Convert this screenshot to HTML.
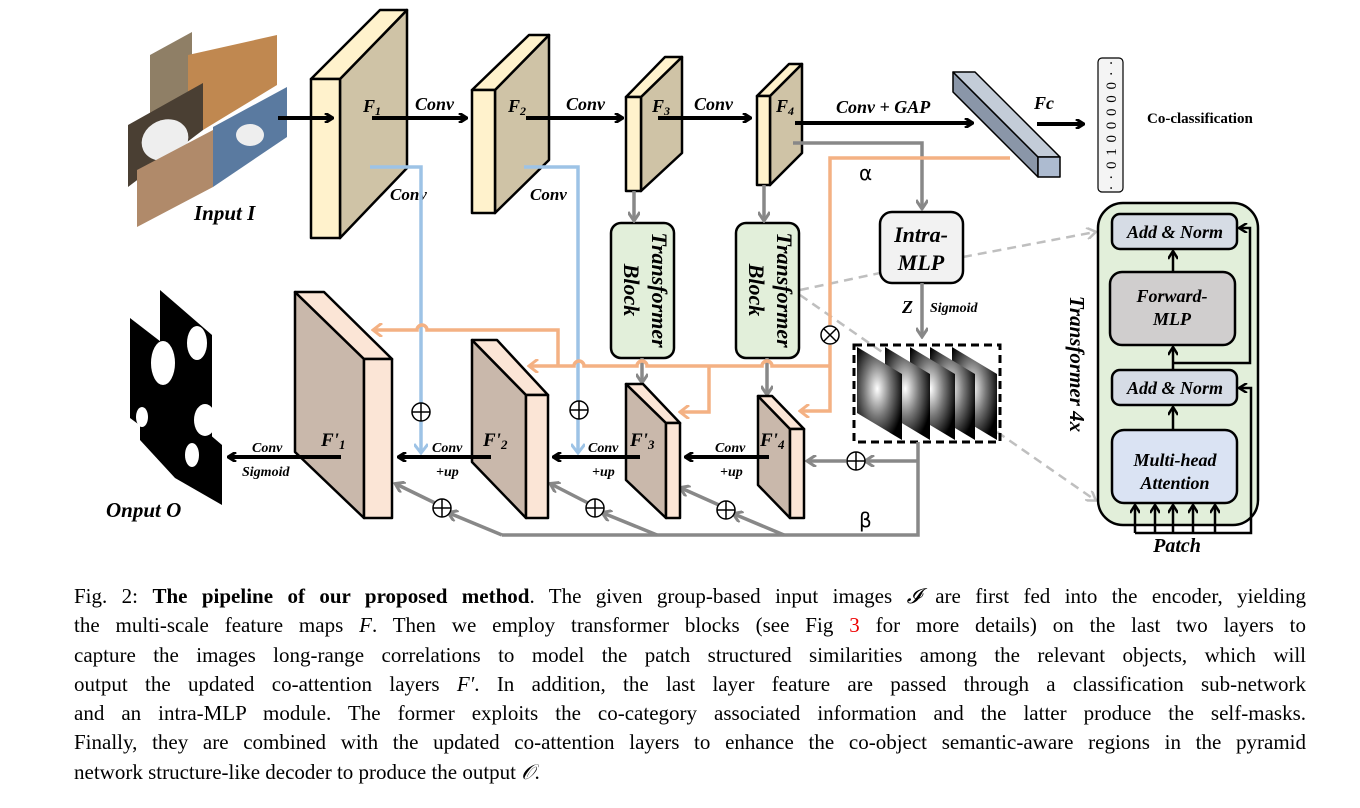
<!DOCTYPE html>
<html><head><meta charset="utf-8"><style>
html,body{margin:0;padding:0;background:#fff;}
body{width:1360px;height:808px;position:relative;overflow:hidden;}
svg{position:absolute;left:0;top:0;}
.cap{position:absolute;left:74px;top:582px;width:1232px;font-family:"Liberation Serif",serif;font-size:21px;line-height:29.3px;color:#000;}
.cap div{text-align:justify;text-align-last:justify;white-space:nowrap;}
.cap div.last{text-align-last:left;}
.lab{font-family:"Liberation Serif",serif;font-weight:bold;font-style:italic;}
</style></head><body>
<svg width="1360" height="808" viewBox="0 0 1360 808">
<defs>
<marker id="ab" markerWidth="10" markerHeight="10" refX="8" refY="5" orient="auto" markerUnits="userSpaceOnUse"><path d="M1,0 L9,5 L1,10" fill="none" stroke="#000" stroke-width="3"/></marker>
<marker id="ag" markerWidth="12" markerHeight="12" refX="9" refY="6" orient="auto" markerUnits="userSpaceOnUse"><path d="M1,0 L10,6 L1,12" fill="none" stroke="#888" stroke-width="3"/></marker>
<marker id="ao" markerWidth="12" markerHeight="14" refX="9" refY="7" orient="auto" markerUnits="userSpaceOnUse"><path d="M1,0 L10,7 L1,14" fill="none" stroke="#f4b183" stroke-width="3"/></marker>
<marker id="abl" markerWidth="12" markerHeight="14" refX="9" refY="7" orient="auto" markerUnits="userSpaceOnUse"><path d="M1,0 L10,7 L1,14" fill="none" stroke="#9dc3e6" stroke-width="3"/></marker>
<marker id="ad" markerWidth="12" markerHeight="12" refX="9" refY="6" orient="auto" markerUnits="userSpaceOnUse"><path d="M1,0 L10,6 L1,12" fill="none" stroke="#bfbfbf" stroke-width="2.5"/></marker>
<marker id="ak" markerWidth="10" markerHeight="10" refX="8" refY="5" orient="auto" markerUnits="userSpaceOnUse"><path d="M1,0 L9,5 L1,10" fill="none" stroke="#000" stroke-width="2.5"/></marker>
<radialGradient id="rg" cx="0.45" cy="0.45" r="0.6"><stop offset="0" stop-color="#fff"/><stop offset="0.5" stop-color="#777"/><stop offset="1" stop-color="#000"/></radialGradient>
</defs>

<polygon points="150,55 192,32 192,100 150,123" fill="#8f7f66"/>
<polygon points="188,55 277,35 277,85 203,130 188,128" fill="#c08850"/>
<polygon points="128,125 203,83 203,130 128,187" fill="#4a3f33"/>
<ellipse cx="165" cy="140" rx="24" ry="20" fill="#eee" transform="rotate(-25 165 140)"/>
<polygon points="213,127 287,87 287,137 213,187" fill="#5a7aa0"/>
<ellipse cx="250" cy="135" rx="14" ry="11" fill="#eee"/>
<polygon points="137,170 213,130 213,187 137,227" fill="#b08a6a"/>
<text x="194" y="220" class="lab" font-size="21">Input  I</text>

<polygon points="160,290 212,335 212,440 160,395" fill="#000"/>
<polygon points="130,318 200,372 200,470 130,418" fill="#000"/>
<polygon points="140,375 222,445 222,505 175,478 140,440" fill="#000"/>
<ellipse cx="163" cy="363" rx="12" ry="22" fill="#fff"/>
<ellipse cx="197" cy="343" rx="10" ry="17" fill="#fff"/>
<ellipse cx="142" cy="417" rx="6" ry="10" fill="#fff"/>
<ellipse cx="205" cy="420" rx="11" ry="16" fill="#fff"/>
<ellipse cx="192" cy="455" rx="7" ry="12" fill="#fff"/>
<text x="106" y="517" class="lab" font-size="21">Onput  O</text>

<g stroke="#000" stroke-width="2.5" stroke-linejoin="round">
<polygon points="340,79 407,10 407,168 340,238" fill="#cfc3a6"/>
<polygon points="311,79 380,10 407,10 340,79" fill="#fff2cc"/>
<rect x="311" y="79" width="29" height="159" fill="#fff2cc"/>
<polygon points="495,90 549,35 549,160 495,213" fill="#cfc3a6"/>
<polygon points="472,90 529,35 549,35 495,90" fill="#fff2cc"/>
<rect x="472" y="90" width="23" height="123" fill="#fff2cc"/>
<polygon points="641,97 682,57 682,153 641,191" fill="#cfc3a6"/>
<polygon points="626,97 665,57 682,57 641,97" fill="#fff2cc"/>
<rect x="626" y="97" width="15" height="94" fill="#fff2cc"/>
<polygon points="770,96 802,64 802,153 770,185" fill="#cfc3a6"/>
<polygon points="757,96 789,64 802,64 770,96" fill="#fff2cc"/>
<rect x="757" y="96" width="13" height="89" fill="#fff2cc"/>
</g>
<g class="lab" font-size="18">
<text x="363" y="112">F<tspan font-size="12" dy="3">1</tspan></text>
<text x="508" y="112">F<tspan font-size="12" dy="3">2</tspan></text>
<text x="652" y="112">F<tspan font-size="12" dy="3">3</tspan></text>
<text x="776" y="112">F<tspan font-size="12" dy="3">4</tspan></text>
<text x="415" y="110">Conv</text>
<text x="566" y="110">Conv</text>
<text x="694" y="110">Conv</text>
<text x="836" y="113">Conv + GAP</text>
<text x="1034" y="109">Fc</text>
<text x="390" y="200" font-size="17">Conv</text>
<text x="530" y="200" font-size="17">Conv</text>
</g>
<g stroke="#000" stroke-width="4" fill="none">
<line x1="278" y1="118" x2="332" y2="118" marker-end="url(#ab)"/>
<line x1="372" y1="118" x2="466" y2="118" marker-end="url(#ab)"/>
<line x1="526" y1="118" x2="622" y2="118" marker-end="url(#ab)"/>
<line x1="658" y1="118" x2="750" y2="118" marker-end="url(#ab)"/>
<line x1="795" y1="123" x2="972" y2="123" marker-end="url(#ab)"/>
<line x1="1037" y1="124" x2="1083" y2="124" marker-end="url(#ab)"/>
</g>

<g stroke="#000" stroke-width="1.5" stroke-linejoin="round">
<polygon points="953,72 1038,157 1038,177 953,92" fill="#8a96a8"/>
<polygon points="953,72 975,72 1060,157 1038,157" fill="#c3ccd8"/>
<rect x="1038" y="157" width="22" height="20" fill="#adbbd0"/>
</g>
<rect x="1098" y="58" width="25" height="134" rx="4" fill="#f4f4f4" stroke="#000" stroke-width="1.2"/>
<text transform="translate(1116,125) rotate(-90)" text-anchor="middle" font-family="Liberation Serif,serif" font-size="15" letter-spacing="1">· · 0 1 0 0 0 0 0 · ·</text>
<text x="1147" y="123" font-family="Liberation Serif,serif" font-weight="bold" font-size="15">Co-classification</text>

<g stroke="#bfbfbf" stroke-width="2.5" stroke-dasharray="9,6" fill="none">
<line x1="800" y1="290" x2="880" y2="273"/>
<line x1="963" y1="257" x2="1095" y2="232" marker-end="url(#ad)"/>
<line x1="800" y1="295" x2="1095" y2="500" marker-end="url(#ad)"/>
</g>

<g stroke="#000" stroke-width="2.5">
<rect x="611" y="223" width="63" height="135" rx="10" fill="#e2efda"/>
<rect x="736" y="223" width="63" height="135" rx="10" fill="#e2efda"/>
</g>
<g class="lab" font-size="22">
<text transform="translate(652,290) rotate(90)" text-anchor="middle">Transformer</text>
<text transform="translate(624,290) rotate(90)" text-anchor="middle">Block</text>
<text transform="translate(777,290) rotate(90)" text-anchor="middle">Transformer</text>
<text transform="translate(749,290) rotate(90)" text-anchor="middle">Block</text>
</g>

<rect x="880" y="212" width="83" height="71" rx="12" fill="#f2f2f2" stroke="#000" stroke-width="2.5"/>
<g class="lab" font-size="22" text-anchor="middle">
<text x="921" y="242">Intra-</text>
<text x="921" y="270">MLP</text>
</g>
<text x="902" y="313" class="lab" font-size="18">Z</text>
<text x="930" y="312" class="lab" font-size="14">Sigmoid</text>
<text x="859" y="180" font-family="DejaVu Sans,sans-serif" font-size="20">α</text>
<text x="859" y="527" font-family="DejaVu Sans,sans-serif" font-size="20">β</text>

<g>
<polygon points="952,347 997,374 997,440 952,413" fill="url(#rg)"/>
<polygon points="930,347 975,374 975,440 930,413" fill="url(#rg)"/>
<polygon points="910,347 955,374 955,440 910,413" fill="url(#rg)"/>
<polygon points="885,347 930,374 930,440 885,413" fill="url(#rg)"/>
<polygon points="857,347 902,374 902,440 857,413" fill="url(#rg)"/>
</g>
<rect x="854" y="345" width="146" height="97" fill="none" stroke="#000" stroke-width="3" stroke-dasharray="8,5"/>

<g stroke="#888" stroke-width="3.5" fill="none">
<polyline points="793,143 922,143 922,208" marker-end="url(#ag)"/>
<line x1="922" y1="283" x2="922" y2="336" marker-end="url(#ag)"/>
<line x1="634" y1="191" x2="634" y2="220" marker-end="url(#ag)"/>
<line x1="764" y1="185" x2="764" y2="220" marker-end="url(#ag)"/>
<line x1="642" y1="358" x2="642" y2="382" marker-end="url(#ag)"/>
<line x1="767" y1="358" x2="767" y2="394" marker-end="url(#ag)"/>
<polyline points="918,442 918,535 502,535"/>
<polyline points="918,461 866,461" marker-end="url(#ag)"/>
<line x1="846" y1="461" x2="808" y2="461" marker-end="url(#ag)"/>
<line x1="502" y1="535" x2="449" y2="513" marker-end="url(#ag)"/>
<line x1="435" y1="503" x2="396" y2="484" marker-end="url(#ag)"/>
<line x1="657" y1="535" x2="603" y2="513" marker-end="url(#ag)"/>
<line x1="588" y1="503" x2="551" y2="484" marker-end="url(#ag)"/>
<line x1="784" y1="535" x2="734" y2="514" marker-end="url(#ag)"/>
<line x1="719" y1="505" x2="681" y2="488" marker-end="url(#ag)"/>
</g>

<g stroke="#000" stroke-width="2.5" stroke-linejoin="round">
<polygon points="295,292 364,359 364,518 295,452" fill="#c9b8ab"/>
<polygon points="295,292 324,292 392,359 364,359" fill="#fbe5d6"/>
<rect x="364" y="359" width="28" height="159" fill="#fbe5d6"/>
<polygon points="472,340 526,395 526,518 472,462" fill="#c9b8ab"/>
<polygon points="472,340 497,340 548,395 526,395" fill="#fbe5d6"/>
<rect x="526" y="395" width="22" height="123" fill="#fbe5d6"/>
<polygon points="626,384 666,423 666,518 626,480" fill="#c9b8ab"/>
<polygon points="626,384 643,384 680,423 666,423" fill="#fbe5d6"/>
<rect x="666" y="423" width="14" height="95" fill="#fbe5d6"/>
<polygon points="758,396 790,429 790,518 758,485" fill="#c9b8ab"/>
<polygon points="758,396 772,396 804,429 790,429" fill="#fbe5d6"/>
<rect x="790" y="429" width="14" height="89" fill="#fbe5d6"/>
</g>

<g stroke="#9dc3e6" stroke-width="3.5" fill="none">
<polyline points="370,167 421,167 421,452" marker-end="url(#abl)"/>
<polyline points="524,167 578,167 578,452" marker-end="url(#abl)"/>
</g>

<g stroke="#f4b183" stroke-width="3.5" fill="none">
<polyline points="1010,158 830,158 830,325"/>
<polyline points="830,345 830,411 801,411" marker-end="url(#ao)"/>
<path d="M830,366 L772,366 a5,5 0 0 0 -10,0 L647,366 a5,5 0 0 0 -10,0 L584,366 a5,5 0 0 0 -10,0 L530,366" marker-end="url(#ao)"/>
<path d="M558,366 L558,330 L427,330 a5,5 0 0 0 -10,0 L374,330" marker-end="url(#ao)"/>
<polyline points="709,366 709,412 681,412" marker-end="url(#ao)"/>
</g>

<g stroke="#000" stroke-width="1.5" fill="#fff">
<circle cx="830" cy="335" r="9"/>
<path d="M824,329 L836,341 M836,329 L824,341" fill="none"/>
<circle cx="421" cy="412" r="9"/><path d="M412,412 H430 M421,403 V421" fill="none"/>
<circle cx="579" cy="410" r="9"/><path d="M570,410 H588 M579,401 V419" fill="none"/>
<circle cx="856" cy="461" r="9"/><path d="M847,461 H865 M856,452 V470" fill="none"/>
<circle cx="442" cy="508" r="9"/><path d="M433,508 H451 M442,499 V517" fill="none"/>
<circle cx="595" cy="508" r="9"/><path d="M586,508 H604 M595,499 V517" fill="none"/>
<circle cx="726" cy="510" r="9"/><path d="M717,510 H735 M726,501 V519" fill="none"/>
</g>

<g stroke="#000" stroke-width="4" fill="none">
<line x1="341" y1="457" x2="229" y2="457" marker-end="url(#ab)"/>
<line x1="491" y1="457" x2="399" y2="457" marker-end="url(#ab)"/>
<line x1="640" y1="457" x2="554" y2="457" marker-end="url(#ab)"/>
<line x1="769" y1="457" x2="686" y2="457" marker-end="url(#ab)"/>
</g>
<g class="lab" font-size="19">
<text x="321" y="446">F'<tspan font-size="13" dy="3">1</tspan></text>
<text x="483" y="446">F'<tspan font-size="13" dy="3">2</tspan></text>
<text x="630" y="446">F'<tspan font-size="13" dy="3">3</tspan></text>
<text x="760" y="446">F'<tspan font-size="13" dy="3">4</tspan></text>
</g>
<g class="lab" font-size="14">
<text x="252" y="452">Conv</text>
<text x="242" y="476">Sigmoid</text>
<text x="432" y="452">Conv</text>
<text x="436" y="476">+up</text>
<text x="588" y="452">Conv</text>
<text x="592" y="476">+up</text>
<text x="715" y="452">Conv</text>
<text x="720" y="476">+up</text>
</g>

<rect x="1098" y="203" width="160" height="322" rx="25" fill="#e2efda" stroke="#000" stroke-width="2.5"/>
<g stroke="#000" stroke-width="2.5">
<rect x="1112" y="214" width="125" height="35" rx="8" fill="#d6dce5"/>
<rect x="1110" y="272" width="125" height="73" rx="12" fill="#d0cece"/>
<rect x="1112" y="370" width="125" height="35" rx="8" fill="#d6dce5"/>
<rect x="1112" y="430" width="125" height="73" rx="12" fill="#dae3f3"/>
</g>
<g stroke="#000" stroke-width="2.5" fill="none">
<line x1="1173" y1="272" x2="1173" y2="252" marker-end="url(#ak)"/>
<line x1="1173" y1="370" x2="1173" y2="348" marker-end="url(#ak)"/>
<line x1="1173" y1="430" x2="1173" y2="408" marker-end="url(#ak)"/>
<polyline points="1173,363 1250,363 1250,228 1240,228" marker-end="url(#ak)"/>
<polyline points="1135,533 1251,533 1251,388 1240,388" marker-end="url(#ak)"/>
<line x1="1135" y1="533" x2="1135" y2="506" marker-end="url(#ak)"/>
<line x1="1155" y1="533" x2="1155" y2="506" marker-end="url(#ak)"/>
<line x1="1173" y1="533" x2="1173" y2="506" marker-end="url(#ak)"/>
<line x1="1193" y1="533" x2="1193" y2="506" marker-end="url(#ak)"/>
<line x1="1215" y1="533" x2="1215" y2="506" marker-end="url(#ak)"/>
</g>
<g class="lab" font-size="18" text-anchor="middle">
<text x="1175" y="238">Add &amp; Norm</text>
<text x="1172" y="302">Forward-</text>
<text x="1172" y="325">MLP</text>
<text x="1175" y="394">Add &amp; Norm</text>
<text x="1175" y="466">Multi-head</text>
<text x="1175" y="489">Attention</text>
<text x="1177" y="552" font-size="20">Patch</text>
<text transform="translate(1070,364) rotate(90)" font-size="21">Transformer 4x</text>
</g>
</svg>

<div class="cap">
<div>Fig. 2: <b>The pipeline of our proposed method</b>. The given group-based input images <i>𝓘</i> are first fed into the encoder, yielding</div>
<div>the multi-scale feature maps <i>F</i>. Then we employ transformer blocks (see Fig <span style="color:#e00">3</span> for more details) on the last two layers to</div>
<div>capture the images long-range correlations to model the patch structured similarities among the relevant objects, which will</div>
<div>output the updated co-attention layers <i>F′</i>. In addition, the last layer feature are passed through a classification sub-network</div>
<div>and an intra-MLP module. The former exploits the co-category associated information and the latter produce the self-masks.</div>
<div>Finally, they are combined with the updated co-attention layers to enhance the co-object semantic-aware regions in the pyramid</div>
<div class="last">network structure-like decoder to produce the output <i>𝒪</i>.</div>
</div>
</body></html>
